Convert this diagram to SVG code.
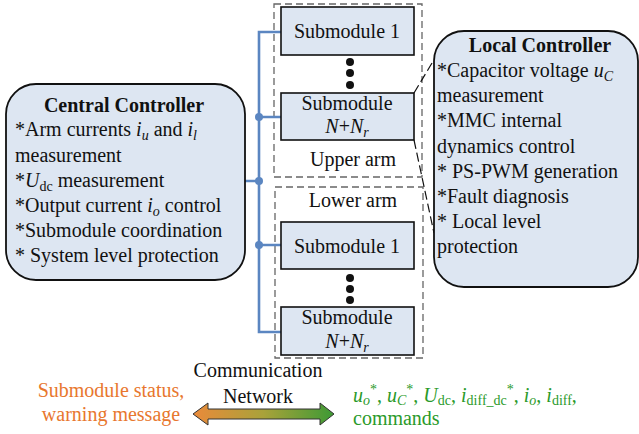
<svg xmlns="http://www.w3.org/2000/svg" width="639" height="434" viewBox="0 0 639 434" font-family="'Liberation Serif', 'DejaVu Serif', serif">
<defs>
<style>
text{font-family:'Liberation Serif','DejaVu Serif',serif;font-size:20px;fill:#111}
.box{fill:#dde6f2;stroke:#111;stroke-width:1.6}
.ctl{fill:#dde6f2;stroke:#111;stroke-width:1.8}
.arm{fill:none;stroke:#666;stroke-width:1.3;stroke-dasharray:7,4}
.bus{fill:none;stroke:#5b86c1;stroke-width:2.6}
.dot{fill:#5b86c1}
.bdot{fill:#111}
.zoom{fill:none;stroke:#111;stroke-width:1.2;stroke-dasharray:9,4}
.b{font-weight:bold}
.i{font-style:italic}
.c{text-anchor:middle}
.or{fill:#e8772e}
.gr{fill:#2a9a2a}
.s{font-size:14px}
</style>
<linearGradient id="grad" x1="0" y1="0" x2="1" y2="0">
<stop offset="0" stop-color="#ea8a3a"/>
<stop offset="0.5" stop-color="#a9a23a"/>
<stop offset="1" stop-color="#3d9a35"/>
</linearGradient>
</defs>

<g id="upper-arm">
<rect class="arm" x="274" y="4" width="148" height="173"/>
<text class="c" x="353" y="166">Upper arm</text>
</g>
<g id="lower-arm">
<rect class="arm" x="275" y="187" width="148" height="171"/>
<text class="c" x="353" y="207">Lower arm</text>
</g>

<g id="connectors">
<path class="bus" d="M281 32H259V332H281M245 181H259M259 117H281M259 245H281"/>
<circle class="dot" cx="259" cy="117" r="4"/>
<circle class="dot" cx="259" cy="181" r="4"/>
<circle class="dot" cx="259" cy="245" r="4"/>
<path class="zoom" d="M414 93L435 58M414 140L434 233"/>
</g>

<g id="sm-upper-1">
<rect class="box" x="281" y="7" width="133" height="48"/>
<text class="c" x="347" y="38">Submodule 1</text>
</g>
<g id="dots-upper">
<circle class="bdot" cx="350" cy="62" r="4"/>
<circle class="bdot" cx="350" cy="73" r="4"/>
<circle class="bdot" cx="350" cy="85" r="4"/>
</g>
<g id="sm-upper-n">
<rect class="box" x="281" y="93" width="133" height="47"/>
<text class="c" x="347" y="110">Submodule</text>
<text class="c" x="347" y="133"><tspan class="i">N</tspan>+<tspan class="i">N</tspan><tspan class="i s" baseline-shift="-4">r</tspan></text>
</g>

<g id="sm-lower-1">
<rect class="box" x="281" y="222" width="133" height="47"/>
<text class="c" x="347" y="253">Submodule 1</text>
</g>
<g id="dots-lower">
<circle class="bdot" cx="350" cy="278" r="4"/>
<circle class="bdot" cx="350" cy="289" r="4"/>
<circle class="bdot" cx="350" cy="300" r="4"/>
</g>
<g id="sm-lower-n">
<rect class="box" x="281" y="307" width="133" height="48"/>
<text class="c" x="347" y="324">Submodule</text>
<text class="c" x="347" y="348"><tspan class="i">N</tspan>+<tspan class="i">N</tspan><tspan class="i s" baseline-shift="-4">r</tspan></text>
</g>

<g id="central-controller">
<rect class="ctl" x="6" y="84" width="239" height="196" rx="30"/>
<text class="b c" x="124" y="112">Central Controller</text>
<text x="15" y="136">*Arm currents <tspan class="i">i</tspan><tspan class="i s" baseline-shift="-4">u</tspan> and <tspan class="i">i</tspan><tspan class="i s" baseline-shift="-4">l</tspan></text>
<text x="15" y="162">measurement</text>
<text x="15" y="187">*<tspan class="i">U</tspan><tspan class="s" baseline-shift="-4">dc</tspan> measurement</text>
<text x="15" y="212">*Output current <tspan class="i">i</tspan><tspan class="i s" baseline-shift="-4">o</tspan> control</text>
<text x="15" y="237">*Submodule coordination</text>
<text x="15" y="262">* System level protection</text>
</g>

<g id="local-controller">
<rect class="ctl" x="434" y="31" width="204" height="256" rx="30"/>
<text class="b c" x="540" y="52">Local Controller</text>
<text x="437" y="77">*Capacitor voltage <tspan class="i">u</tspan><tspan class="i s" baseline-shift="-4">C</tspan></text>
<text x="437" y="102">measurement</text>
<text x="437" y="127">*MMC internal</text>
<text x="437" y="153">dynamics control</text>
<text x="437" y="178">* PS-PWM generation</text>
<text x="437" y="203">*Fault diagnosis</text>
<text x="437" y="228">* Local level</text>
<text x="437" y="253">protection</text>
</g>

<g id="communication">
<text class="c" x="258" y="377">Communication</text>
<text class="c" x="258" y="403">Network</text>
<path d="M193 414L208 403V409H320V403L334 414L320 425V419H208V425Z" fill="url(#grad)" stroke="#333" stroke-width="1"/>
<text class="c or" x="111" y="397">Submodule status,</text>
<text class="c or" x="111" y="421">warning message</text>
<text class="gr" x="353" y="402"><tspan class="i">u</tspan><tspan class="i s" baseline-shift="-3">o</tspan><tspan class="s" baseline-shift="8">*</tspan>, <tspan class="i">u</tspan><tspan class="i s" baseline-shift="-3">C</tspan><tspan class="s" baseline-shift="8">*</tspan>, <tspan class="i">U</tspan><tspan class="s" baseline-shift="-3">dc</tspan>, <tspan class="i">i</tspan><tspan class="s" baseline-shift="-3">diff_dc</tspan><tspan class="s" baseline-shift="8">*</tspan>, <tspan class="i">i</tspan><tspan class="i s" baseline-shift="-3">o</tspan>, <tspan class="i">i</tspan><tspan class="s" baseline-shift="-3">diff</tspan>,</text>
<text class="gr" x="353" y="425">commands</text>
</g>
</svg>
